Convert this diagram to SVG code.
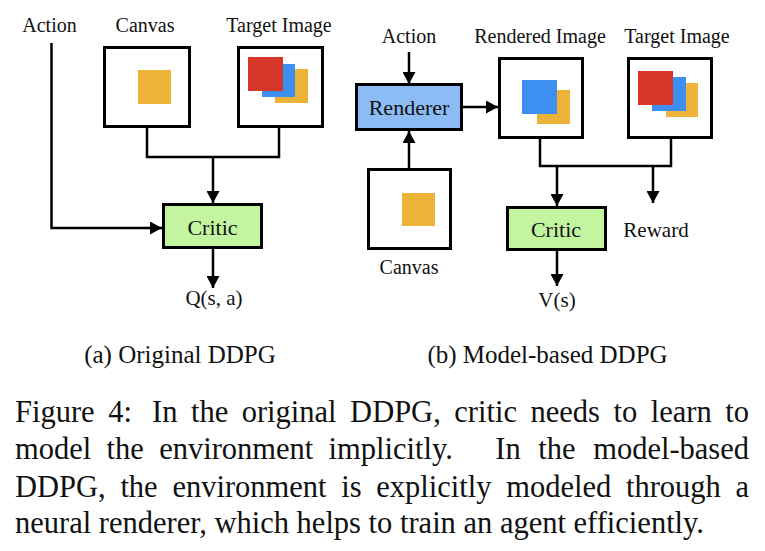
<svg xmlns="http://www.w3.org/2000/svg" width="765" height="551" viewBox="0 0 765 551">
<defs>
<marker id="ah" markerUnits="userSpaceOnUse" markerWidth="13" markerHeight="13" refX="12" refY="6.5" orient="auto">
<path d="M0,0 L12,6.5 L0,13 z" fill="#000"/>
</marker>
<style>
text{font-family:"Liberation Serif","Times New Roman",serif;fill:#111;}
.t{font-size:20px;text-anchor:middle;}
.b{font-size:22px;text-anchor:middle;}
.o{font-size:21px;text-anchor:middle;}
.img{fill:#fff;stroke:#000;stroke-width:3;}
.crit{fill:#c3f5a0;stroke:#000;stroke-width:3;}
.rend{fill:#8cbcf5;stroke:#000;stroke-width:3;}
.ln{fill:none;stroke:#000;stroke-width:2.5;}
.ar{fill:none;stroke:#000;stroke-width:2.5;marker-end:url(#ah);}
.y{fill:#ecb338;}
.bl{fill:#3d8ff2;}
.r{fill:#d6362a;}
.cap{font-size:25px;text-anchor:middle;}
.fig{font-size:30.5px;}
</style>
</defs>
<rect width="765" height="551" fill="#fff"/>

<g id="connectors">
<path class="ar" d="M51.5,43 V228 H162"/>
<path class="ln" d="M147,127 V157 H279 V127"/>
<path class="ar" d="M213,157 V203"/>
<path class="ar" d="M213,249 V288"/>
<path class="ar" d="M409,52 V84"/>
<path class="ar" d="M463,107 H498"/>
<path class="ln" d="M540,139 V166 H671 V139"/>
<path class="ar" d="M557,166 V206"/>
<path class="ar" d="M653,166 V203"/>
<path class="ar" d="M557,251 V286"/>
<path class="ar" d="M409,168 V131"/>
</g>

<g id="a-action"><text class="t" x="49.5" y="32">Action</text></g>
<g id="a-canvas">
<text class="t" x="145" y="32">Canvas</text>
<rect class="img" x="104.5" y="47.5" width="85" height="79"/>
<rect class="y" x="138" y="70" width="33" height="34"/>
</g>
<g id="a-target">
<text class="t" x="279" y="32">Target Image</text>
<rect class="img" x="238.5" y="47.5" width="84" height="79"/>
<rect class="y" x="275" y="69" width="33" height="34"/>
<rect class="bl" x="262" y="64" width="33" height="33"/>
<rect class="r" x="248" y="57" width="35" height="34"/>
</g>
<g id="a-critic">
<rect class="crit" x="163.5" y="204.5" width="98" height="43"/>
<text class="b" x="212.5" y="235">Critic</text>
</g>
<g id="a-q"><text class="o" x="214" y="305">Q(s, a)</text></g>

<g id="b-action"><text class="t" x="409" y="43">Action</text></g>
<g id="b-renderer">
<rect class="rend" x="356.5" y="84.5" width="105" height="45"/>
<text class="b" x="409" y="115">Renderer</text>
</g>
<g id="b-rendered">
<text class="t" x="540" y="43">Rendered Image</text>
<rect class="img" x="499.5" y="58.5" width="83" height="79"/>
<rect class="y" x="537" y="90" width="33" height="34"/>
<rect class="bl" x="522" y="80" width="35" height="34"/>
</g>
<g id="b-target">
<text class="t" x="677" y="43">Target Image</text>
<rect class="img" x="628.5" y="58.5" width="83" height="79"/>
<rect class="y" x="666" y="83" width="32" height="34"/>
<rect class="bl" x="652" y="77" width="34" height="34"/>
<rect class="r" x="638" y="71" width="35" height="34"/>
</g>
<g id="b-canvas">
<rect class="img" x="368.5" y="169.5" width="82" height="79"/>
<rect class="y" x="402" y="193" width="33" height="33"/>
<text class="t" x="409" y="274">Canvas</text>
</g>
<g id="b-critic">
<rect class="crit" x="507.5" y="207.5" width="98" height="42"/>
<text class="b" x="556" y="237">Critic</text>
</g>
<g id="b-reward"><text class="o" x="656" y="237">Reward</text></g>
<g id="b-v"><text class="o" x="557" y="307">V(s)</text></g>

<g id="captions">
<text class="cap" x="180" y="363">(a) Original DDPG</text>
<text class="cap" x="547.5" y="363">(b) Model-based DDPG</text>
<text class="fig" x="15" y="422" word-spacing="6">Figure 4:</text>
<text class="fig" x="152" y="422" word-spacing="5.9">In the original DDPG, critic needs to learn to</text>
<text class="fig" x="15" y="459" word-spacing="7.7">model the environment implicitly.</text>
<text class="fig" x="749" y="459" word-spacing="10" text-anchor="end">In the model-based</text>
<text class="fig" x="15" y="497" word-spacing="7.1">DDPG, the environment is explicitly modeled through a</text>
<text class="fig" x="15" y="533">neural renderer, which helps to train an agent efficiently.</text>
</g>
</svg>
